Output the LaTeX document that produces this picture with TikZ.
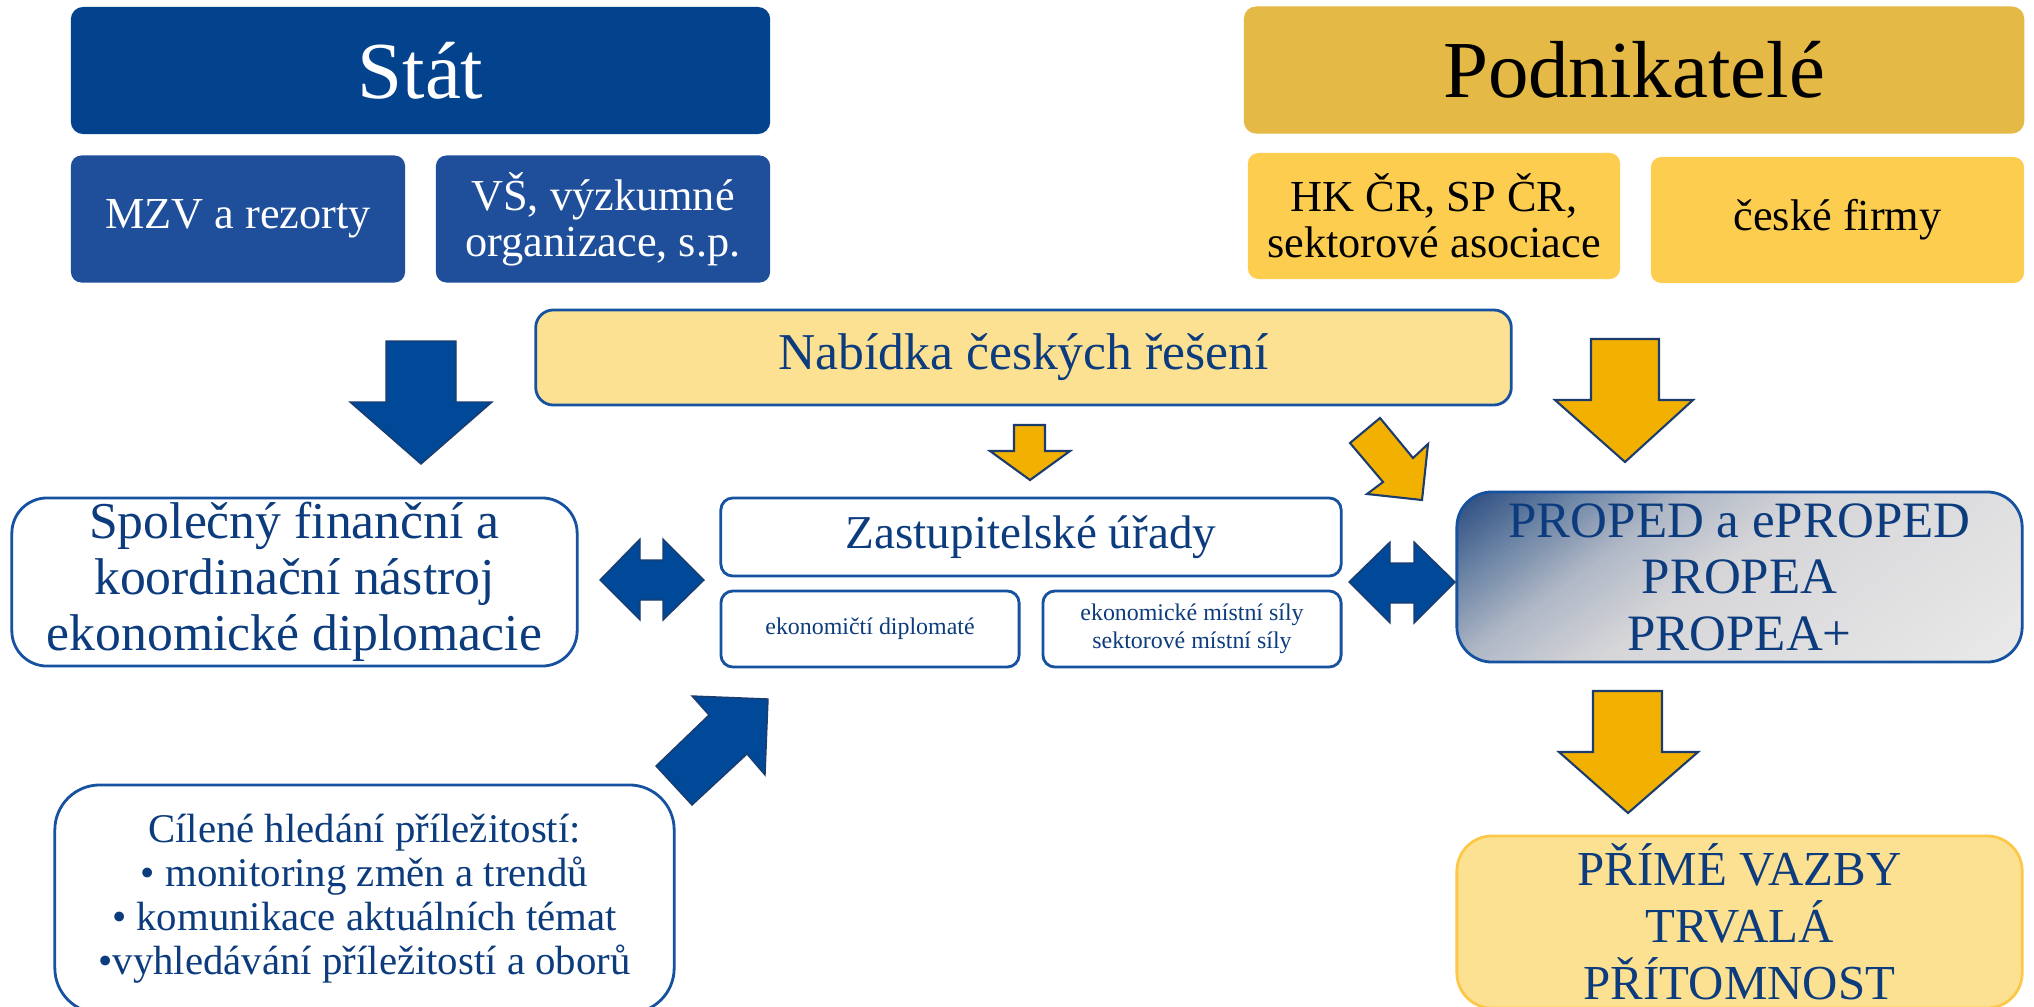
\documentclass[tikz,border=0pt]{standalone}
\usepackage{fontspec}
\setmainfont{Liberation Serif}
\usetikzlibrary{positioning}

\definecolor{statblue}{RGB}{3,66,140}
\definecolor{subblue}{RGB}{31,78,155}
\definecolor{podngold}{RGB}{228,185,70}
\definecolor{subyellow}{RGB}{253,205,80}
\definecolor{lightyellow}{RGB}{253,225,147}
\definecolor{lineblue}{RGB}{22,82,160}
\definecolor{textblue}{RGB}{12,60,125}
\definecolor{arrowblue}{RGB}{0,73,152}
\definecolor{arrowgold}{RGB}{242,177,0}
\definecolor{arrowedge}{RGB}{28,60,110}
\definecolor{primyedge}{RGB}{252,200,74}
\definecolor{propdark}{RGB}{35,70,124}
\definecolor{propsteel}{RGB}{110,134,166}
\definecolor{propgray}{RGB}{176,184,198}
\definecolor{propmid}{RGB}{214,214,217}
\definecolor{proplight}{RGB}{234,234,234}

\newcommand{\fTitle}{\fontsize{23}{27}\selectfont}
\newcommand{\fSub}{\fontsize{12.6}{13.1}\selectfont}
\newcommand{\fMain}{\fontsize{14.7}{15.9}\selectfont}
\newcommand{\fList}{\fontsize{11.6}{12.5}\selectfont}
\newcommand{\fSmall}{\fontsize{6.8}{8}\selectfont}

% jeden pruh prechodu v poli PROPED (#1 = vzdalenost od stredu pole)
\newcommand{\propstrip}[2]{%
  \fill[#2] ({1739.5-0.594*(#1)+321.6},{577-0.804*(#1)-237.6})
    -- ({1739.5-0.594*(#1)-321.6},{577-0.804*(#1)+237.6})
    -- ({1739.5-0.594*(#1+5)-321.6},{577-0.804*(#1+5)+237.6})
    -- ({1739.5-0.594*(#1+5)+321.6},{577-0.804*(#1+5)-237.6}) -- cycle;}

\begin{document}
\begin{tikzpicture}[x=0.01cm, y=-0.01cm,
    titlebox/.style={rounded corners=3.5pt, inner sep=0pt, align=center, font=\fTitle, minimum height=1.27cm},
    subbox/.style={rounded corners=3pt, inner sep=0pt, align=center, font=\fSub, minimum height=1.27cm},
    whitebox/.style={draw=lineblue, line width=0.8pt, fill=white, inner sep=0pt, align=center, text=textblue},
    blockblue/.style={fill=arrowblue, draw=arrowedge, line width=0.4pt, line join=miter},
    blockgold/.style={fill=arrowgold, draw=arrowedge, line width=0.6pt, line join=miter}]
  \useasboundingbox (0,0) rectangle (2034,1006);
  \clip (0,0) rectangle (2034,1006);

  % horni rada - stat
  \node[titlebox, fill=statblue, text=white, minimum width=6.99cm] (stat) at (420.5,70.5) {Stát};
  \node[subbox, fill=subblue, text=white, minimum width=3.34cm] (mzv) at (238,219) {MZV a rezorty};
  \node[subbox, fill=subblue, text=white, minimum width=3.34cm] (vs) at (603,219) {VŠ, výzkumné\\organizace, s.p.};

  % horni rada - podnikatele
  \node[titlebox, fill=podngold, text=black, minimum width=7.8cm] (podn) at (1634,70) {Podnikatelé};
  \node[subbox, fill=subyellow, text=black, minimum width=3.72cm, minimum height=1.26cm] (hk) at (1434,216) {HK ČR, SP ČR,\\sektorové asociace};
  \node[subbox, fill=subyellow, text=black, minimum width=3.73cm, minimum height=1.26cm] (firmy) at (1837.5,220) {české firmy};

  % nabidka
  \node[whitebox, fill=lightyellow, rounded corners=5pt, font=\fMain, minimum width=9.75cm, minimum height=0.95cm] (nabidka) at (1023.5,357.5) {Nabídka českých řešení};

  % prostredni rada
  \node[whitebox, rounded corners=10pt, font=\fMain, minimum width=5.65cm, minimum height=1.68cm] (nastroj) at (294.5,582) {Společný finanční a\\koordinační nástroj\\ekonomické diplomacie};
  \node[whitebox, rounded corners=3.4pt, font=\fontsize{13.4}{15}\selectfont, minimum width=6.2cm, minimum height=0.78cm] (zu) at (1031,537) {Zastupitelské úřady};
  \node[whitebox, rounded corners=3.4pt, font=\fSmall, minimum width=2.98cm, minimum height=0.76cm] (diplomate) at (870,629) {ekonomičtí diplomaté};
  \node[whitebox, rounded corners=3.4pt, font=\fSmall, minimum width=2.98cm, minimum height=0.76cm] (sily) at (1192,629) {ekonomické místní síly\\sektorové místní síly};

  % prechod v poli PROPED
  \begin{scope}
    \clip[rounded corners=10pt] (1457,492) rectangle (2022,662);
    \foreach \p [evaluate=\p as \m using {(\p-160)/0.76}] in {160,164,...,236} {\propstrip{\p}{propdark!\m!propsteel}}
    \foreach \p [evaluate=\p as \m using {(\p-95)/0.65}] in {95,99,...,159} {\propstrip{\p}{propsteel!\m!propgray}}
    \foreach \p [evaluate=\p as \m using {(\p-15)/0.8}] in {15,19,...,91} {\propstrip{\p}{propgray!\m!propmid}}
    \foreach \p [evaluate=\p as \m using {(\p+240)/2.55}] in {-240,-236,...,12} {\propstrip{\p}{propmid!\m!proplight}}
  \end{scope}
  \node[draw=lineblue, line width=0.8pt, rounded corners=10pt, inner sep=0pt, align=center, text=textblue,
        font=\fontsize{14.5}{16.1}\selectfont, minimum width=5.65cm, minimum height=1.7cm] (proped) at (1739.5,577)
        {PROPED a ePROPED\\PROPEA\\PROPEA+};

  % spodni rada
  \node[whitebox, rounded corners=12.8pt, font=\fList, minimum width=6.19cm, minimum height=2.28cm] (hledani) at (364.5,899)
        {Cílené hledání příležitostí:\\• monitoring změn a trendů\\• komunikace aktuálních témat\\•vyhledávání příležitostí a oborů};
  \node[draw=primyedge, line width=0.8pt, fill=lightyellow, rounded corners=10pt, inner sep=0pt, align=center, text=textblue,
        font=\fontsize{13.9}{16.2}\selectfont, minimum width=5.65cm, minimum height=1.72cm] (primy) at (1739.5,922)
        {PŘÍMÉ VAZBY\\TRVALÁ\\PŘÍTOMNOST};

  % modre sipky
  \filldraw[blockblue] (386,341) -- (456,341) -- (456,402) -- (492,402) -- (421,464) -- (350,402) -- (386,402) -- cycle;
  \filldraw[blockblue] (656,766) -- (709,715) -- (692,696) -- (768,699) -- (765,775) -- (747,754) -- (692,805) -- cycle;
  \filldraw[blockblue] (600,580) -- (640,539) -- (640,560) -- (663,560) -- (663,539) -- (704,580)
        -- (663,620) -- (663,600) -- (640,600) -- (640,620) -- cycle;
  \filldraw[blockblue] (1349,582) -- (1390,542) -- (1390,563) -- (1414,563) -- (1414,542) -- (1455,582)
        -- (1414,623) -- (1414,603) -- (1390,603) -- (1390,623) -- cycle;

  % zlute sipky
  \filldraw[blockgold] (1014,425) -- (1045,425) -- (1045,451) -- (1070,451) -- (1030,480) -- (990,451) -- (1014,451) -- cycle;
  \filldraw[blockgold] (1380,418) -- (1413,458) -- (1428,444) -- (1422,500) -- (1367,494) -- (1383,482) -- (1350,443) -- cycle;
  \filldraw[blockgold] (1591,339) -- (1659,339) -- (1659,400) -- (1693,400) -- (1625,462) -- (1555,400) -- (1591,400) -- cycle;
  \filldraw[blockgold] (1593,691) -- (1662,691) -- (1662,752) -- (1698,752) -- (1628,813) -- (1559,752) -- (1593,752) -- cycle;
\end{tikzpicture}
\end{document}
